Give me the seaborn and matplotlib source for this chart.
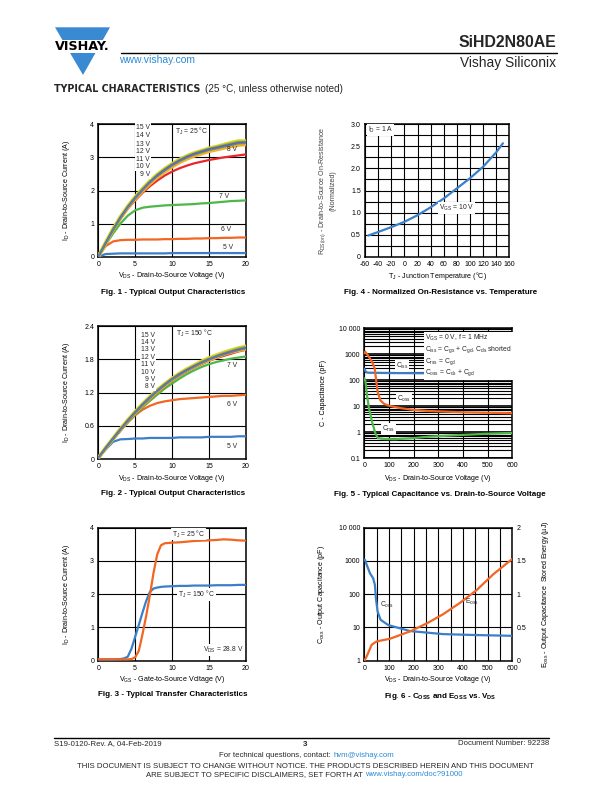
import numpy as np
import pandas as pd
import matplotlib
matplotlib.use("Agg")
import matplotlib.pyplot as plt
import seaborn as sns
from matplotlib.ticker import MultipleLocator, LogLocator, NullFormatter, FixedLocator
from matplotlib.patches import Polygon, Rectangle
from matplotlib.lines import Line2D

# ---------------- data ----------------
# Fig 1 - output characteristics, TJ = 25 C
vds1 = [0, 1, 2, 3, 4, 5, 6, 7, 8, 9, 10, 11, 12, 13, 14, 15, 16, 17, 18, 19, 20]
f1_15 = [0, 0.42, 0.83, 1.20, 1.52, 1.80, 2.05, 2.28, 2.48, 2.65, 2.80, 2.93, 3.04, 3.13, 3.20, 3.27, 3.32, 3.38, 3.44, 3.49, 3.49]
f1_14 = [0, 0.42, 0.82, 1.19, 1.51, 1.79, 2.04, 2.27, 2.47, 2.64, 2.79, 2.92, 3.03, 3.12, 3.19, 3.26, 3.31, 3.37, 3.42, 3.47, 3.47]
f1_13 = [0, 0.41, 0.82, 1.18, 1.50, 1.78, 2.03, 2.26, 2.46, 2.63, 2.78, 2.91, 3.02, 3.11, 3.18, 3.25, 3.30, 3.35, 3.40, 3.45, 3.46]
f1_12 = [0, 0.41, 0.81, 1.18, 1.50, 1.77, 2.02, 2.25, 2.45, 2.62, 2.77, 2.90, 3.01, 3.10, 3.17, 3.24, 3.29, 3.34, 3.39, 3.44, 3.45]
f1_11 = [0, 0.41, 0.81, 1.17, 1.49, 1.76, 2.01, 2.24, 2.44, 2.61, 2.76, 2.89, 3.00, 3.09, 3.16, 3.23, 3.28, 3.33, 3.38, 3.43, 3.44]
f1_10 = [0, 0.40, 0.80, 1.16, 1.48, 1.75, 2.00, 2.23, 2.42, 2.59, 2.74, 2.87, 2.98, 3.07, 3.14, 3.21, 3.26, 3.31, 3.36, 3.41, 3.42]
f1_9 = [0, 0.40, 0.79, 1.15, 1.46, 1.73, 1.97, 2.19, 2.38, 2.55, 2.70, 2.83, 2.94, 3.03, 3.10, 3.17, 3.22, 3.27, 3.32, 3.36, 3.38]
f1_8 = [0, 0.39, 0.78, 1.14, 1.45, 1.70, 1.93, 2.13, 2.30, 2.45, 2.57, 2.67, 2.75, 2.82, 2.87, 2.92, 2.96, 3.00, 3.03, 3.06, 3.09]
f1_7 = [0, 0.36, 0.70, 1.00, 1.24, 1.40, 1.48, 1.51, 1.53, 1.55, 1.56, 1.57, 1.58, 1.59, 1.61, 1.62, 1.64, 1.66, 1.68, 1.69, 1.70]
f1_6 = [0, 0.32, 0.46, 0.50, 0.51, 0.51, 0.52, 0.52, 0.52, 0.53, 0.53, 0.54, 0.54, 0.55, 0.55, 0.56, 0.56, 0.57, 0.57, 0.58, 0.58]
f1_5 = [0, 0.08, 0.09, 0.10, 0.10, 0.10, 0.10, 0.10, 0.10, 0.10, 0.11, 0.11, 0.11, 0.11, 0.11, 0.11, 0.11, 0.11, 0.11, 0.11, 0.11]

# Fig 2 - output characteristics, TJ = 150 C
vds2 = [0, 1, 2, 3, 4, 5, 6, 7, 8, 9, 10, 11, 12, 13, 14, 15, 16, 17, 18, 19, 20]
f2_15 = [0.02, 0.20, 0.37, 0.54, 0.70, 0.85, 0.99, 1.12, 1.24, 1.35, 1.45, 1.54, 1.62, 1.69, 1.76, 1.82, 1.87, 1.92, 1.96, 2.00, 2.03]
f2_14 = [0.02, 0.20, 0.37, 0.54, 0.70, 0.85, 0.99, 1.12, 1.24, 1.35, 1.45, 1.54, 1.61, 1.68, 1.75, 1.81, 1.86, 1.91, 1.95, 1.99, 2.02]
f2_13 = [0.02, 0.20, 0.37, 0.53, 0.69, 0.84, 0.98, 1.11, 1.23, 1.34, 1.44, 1.53, 1.61, 1.68, 1.74, 1.80, 1.85, 1.90, 1.94, 1.98, 2.01]
f2_12 = [0.02, 0.20, 0.37, 0.53, 0.69, 0.84, 0.98, 1.11, 1.23, 1.34, 1.44, 1.52, 1.60, 1.67, 1.74, 1.80, 1.85, 1.89, 1.93, 1.97, 2.00]
f2_11 = [0.02, 0.19, 0.36, 0.53, 0.69, 0.84, 0.97, 1.10, 1.22, 1.33, 1.43, 1.52, 1.60, 1.67, 1.73, 1.79, 1.84, 1.89, 1.93, 1.97, 2.00]
f2_10 = [0.02, 0.19, 0.36, 0.52, 0.68, 0.83, 0.97, 1.10, 1.22, 1.33, 1.43, 1.51, 1.59, 1.66, 1.73, 1.79, 1.84, 1.88, 1.92, 1.96, 1.99]
f2_9 = [0.02, 0.19, 0.36, 0.52, 0.68, 0.83, 0.96, 1.09, 1.21, 1.32, 1.42, 1.51, 1.59, 1.66, 1.72, 1.78, 1.83, 1.88, 1.92, 1.95, 1.98]
f2_8 = [0.02, 0.19, 0.36, 0.52, 0.67, 0.82, 0.96, 1.08, 1.20, 1.31, 1.41, 1.50, 1.58, 1.65, 1.71, 1.77, 1.82, 1.86, 1.90, 1.94, 1.97]
f2_7 = [0.02, 0.19, 0.35, 0.51, 0.66, 0.80, 0.93, 1.05, 1.16, 1.27, 1.36, 1.45, 1.53, 1.60, 1.66, 1.71, 1.75, 1.78, 1.81, 1.83, 1.85]
f2_6 = [0.02, 0.19, 0.35, 0.51, 0.66, 0.79, 0.89, 0.96, 1.01, 1.04, 1.06, 1.08, 1.09, 1.10, 1.11, 1.12, 1.13, 1.14, 1.14, 1.15, 1.16]
f2_5 = [0.02, 0.17, 0.31, 0.355, 0.36, 0.37, 0.37, 0.38, 0.38, 0.38, 0.38, 0.39, 0.39, 0.39, 0.39, 0.40, 0.40, 0.40, 0.40, 0.41, 0.41]

# Fig 3 - transfer characteristics
vgs3 = [0, 1, 2, 3, 3.5, 4, 4.5, 5, 5.5, 6, 6.5, 7, 7.5, 8, 8.5, 9, 10, 11, 12, 13, 14, 15, 16, 17, 18, 19, 20]
id_25 = [0.04, 0.04, 0.04, 0.04, 0.04, 0.04, 0.05, 0.10, 0.30, 0.80, 1.35, 1.97, 2.65, 3.20, 3.47, 3.53, 3.55, 3.56, 3.58, 3.60, 3.61, 3.62, 3.63, 3.65, 3.64, 3.62, 3.61]
id_150 = [0.04, 0.04, 0.04, 0.05, 0.07, 0.12, 0.36, 0.72, 1.08, 1.45, 1.80, 2.07, 2.17, 2.20, 2.22, 2.23, 2.24, 2.25, 2.25, 2.26, 2.26, 2.26, 2.27, 2.27, 2.27, 2.28, 2.28]

# Fig 4 - normalized on-resistance
tj4 = [-55, -40, -20, 0, 20, 40, 60, 80, 100, 120, 140, 150]
rds4 = [0.48, 0.56, 0.67, 0.79, 0.94, 1.12, 1.32, 1.55, 1.78, 2.04, 2.37, 2.57]

# Fig 5 - capacitance
ciss_v = [0, 4, 10, 20, 100, 300, 600]
ciss_c = [280, 230, 200, 195, 190, 185, 180]
coss_v = [0, 4, 18, 31, 42, 47, 54, 65, 80, 100, 150, 200, 260, 400, 600]
coss_c = [1100, 1260, 810, 525, 290, 120, 36, 17, 12.5, 10.5, 8.4, 7.3, 6.6, 5.9, 5.4]
crss_v = [0, 4, 11, 18, 31, 45, 55, 80, 126, 200, 261, 396, 500, 600]
crss_c = [120, 100, 27, 9.5, 2.6, 0.9, 0.6, 0.55, 0.54, 0.6, 0.68, 0.79, 0.88, 0.95]

# Fig 6 - Coss and Eoss
coss6_v = [0, 3, 10, 23, 36, 43, 47, 54, 66, 97, 185, 320, 455, 600]
coss6_c = [1100, 1070, 760, 425, 300, 190, 76, 30, 17, 11.8, 7.8, 6.3, 5.9, 5.6]
eoss_v = [0, 9, 30, 50, 104, 185, 253, 320, 388, 455, 523, 600]
eoss_e = [0, 0.06, 0.24, 0.29, 0.33, 0.44, 0.56, 0.70, 0.87, 1.06, 1.30, 1.53]

# ---------------- style ----------------
sns.set_theme(style="white")
plt.rcParams["font.family"] = ["Liberation Sans", "DejaVu Sans"]
plt.rcParams["mathtext.default"] = "regular"
plt.rcParams["axes.unicode_minus"] = False

W, H = 612, 792
fig = plt.figure(figsize=(W / 100, H / 100), dpi=100)
fig.patch.set_facecolor("white")

BLUE = "#3b7fc8"
ORANGE = "#f26522"
GREEN = "#4cb848"
RED = "#e8262b"
LINK = "#2a8bd6"
TS = 5.0   # tick label size
LS = 5.1   # axis label size
AS = 4.9   # annotation size
FS = 5.6   # footer size
WB = dict(facecolor="white", edgecolor="none", pad=0.6)


def add_ax(l, t, r, b):
    return fig.add_axes([l / W, 1 - b / H, (r - l) / W, (b - t) / H])


def prep(ax, xlim, ylim, xticks=None, yticks=None):
    ax.set_xlim(xlim)
    ax.set_ylim(ylim)
    if xticks is not None:
        ax.set_xticks(xticks)
    if yticks is not None:
        ax.set_yticks(yticks)
    ax.grid(True, which="major", color="black", lw=0.8)
    for s in ax.spines.values():
        s.set_visible(True)
        s.set_color("black")
        s.set_linewidth(1.1)
    ax.tick_params(which="both", length=0, labelsize=TS, pad=3, colors="black")
    ax.set_axisbelow(True)
    ax.set_facecolor("white")


def labels(ax, xl, yl, xy, yx, ycol="black"):
    ax.set_xlabel(xl, fontsize=LS, va="center", color="black")
    ax.set_ylabel(yl, fontsize=LS, va="center", color=ycol)
    ax.xaxis.set_label_coords(0.5, xy)
    ax.yaxis.set_label_coords(yx, 0.5)


def line(ax, x, y, color, lw=1.6, z=3):
    sns.lineplot(x=x, y=y, ax=ax, color=color, lw=lw, zorder=z, legend=False,
                 estimator=None, sort=False)


def caption(xc, yc, s):
    fig.text(xc / W, 1 - yc / H, s, ha="center", va="center", fontsize=5.8,
             fontweight="bold", color="black")


bundle_cols = {"15": "#d6d81e", "14": "#a3a736", "13": "#7a7f8c", "12": "#4a72b0",
               "11": "#6f5fa0", "10": "#5b86a8", "9": "#f3b31c"}

# ---------------- Fig 1 ----------------
ax1 = add_ax(98.3, 124.3, 245.7, 256.7)
prep(ax1, (0, 20), (0, 4), [0, 5, 10, 15, 20], [0, 1, 2, 3, 4])
line(ax1, vds1, f1_5, BLUE)
line(ax1, vds1, f1_6, ORANGE)
line(ax1, vds1, f1_7, GREEN)
line(ax1, vds1, f1_8, RED)
line(ax1, vds1, f1_15, bundle_cols["15"], lw=2.8)
line(ax1, vds1, f1_9, bundle_cols["9"], lw=2.0)
line(ax1, vds1, f1_14, bundle_cols["14"], lw=1.6)
line(ax1, vds1, f1_13, bundle_cols["13"], lw=1.4)
line(ax1, vds1, f1_12, bundle_cols["12"], lw=1.2)
line(ax1, vds1, f1_11, bundle_cols["11"], lw=1.0)
line(ax1, vds1, f1_10, bundle_cols["10"], lw=0.9)
labels(ax1, "V$_{DS}$ - Drain-to-Source Voltage (V)", "I$_D$ - Drain-to-Source Current (A)", -0.144, -0.214)
for s, yv in zip(["15 V", "14 V", "13 V", "12 V", "11 V", "10 V", "9 V"],
                 [3.90, 3.67, 3.40, 3.17, 2.95, 2.72, 2.49]):
    ax1.text(7.0, yv, s, fontsize=AS, ha="right", va="center", bbox=WB, zorder=5)
ax1.text(10.4, 3.78, "T$_J$ = 25 °C", fontsize=AS, ha="left", va="center", bbox=WB, zorder=5)
ax1.text(18.1, 3.24, "8 V", fontsize=AS, ha="center", va="center", zorder=5)
ax1.text(17.0, 1.83, "7 V", fontsize=AS, ha="center", va="center", zorder=5)
ax1.text(17.4, 0.81, "6 V", fontsize=AS, ha="center", va="center", zorder=5)
ax1.text(17.6, 0.27, "5 V", fontsize=AS, ha="center", va="center", zorder=5)
caption(173, 292, "Fig. 1 - Typical Output Characteristics")

# ---------------- Fig 4 ----------------
ax4 = add_ax(365, 124.3, 509.5, 256.7)
prep(ax4, (-60, 160), (0, 3.0), list(range(-60, 161, 20)), [0, 0.5, 1.0, 1.5, 2.0, 2.5, 3.0])
ax4.set_yticklabels(["0", "0.5", "1.0", "1.5", "2.0", "2.5", "3.0"])
ax4.yaxis.set_minor_locator(MultipleLocator(0.25))
ax4.grid(True, which="minor", axis="y", color="black", lw=0.8)
line(ax4, tj4, rds4, BLUE)
labels(ax4, "T$_J$ - Junction Temperature (°C)",
       "R$_{DS(on)}$ - Drain-to-Source On-Resistance\n(Normalized)", -0.144, -0.263, ycol="#444444")
ax4.text(-55, 2.87, "I$_D$ = 1 A", fontsize=AS, ha="left", va="center", bbox=WB, zorder=5)
ax4.text(79.6, 1.11, "V$_{GS}$ = 10 V", fontsize=AS, ha="center", va="center", bbox=WB, zorder=5)
caption(441, 292, "Fig. 4 - Normalized On-Resistance vs. Temperature")

# ---------------- Fig 2 ----------------
ax2 = add_ax(98.3, 326, 245.7, 459)
prep(ax2, (0, 20), (0, 2.4), [0, 5, 10, 15, 20], [0, 0.6, 1.2, 1.8, 2.4])
ax2.set_yticklabels(["0", "0.6", "1.2", "1.8", "2.4"])
line(ax2, vds2, f2_5, BLUE)
line(ax2, vds2, f2_6, ORANGE)
line(ax2, vds2, f2_7, GREEN)
line(ax2, vds2, f2_8, RED)
line(ax2, vds2, f2_15, bundle_cols["15"], lw=2.8)
line(ax2, vds2, f2_9, bundle_cols["9"], lw=2.0)
line(ax2, vds2, f2_14, bundle_cols["14"], lw=1.6)
line(ax2, vds2, f2_13, bundle_cols["13"], lw=1.4)
line(ax2, vds2, f2_12, bundle_cols["12"], lw=1.2)
line(ax2, vds2, f2_11, bundle_cols["11"], lw=1.0)
line(ax2, vds2, f2_10, bundle_cols["10"], lw=0.9)
labels(ax2, "V$_{DS}$ - Drain-to-Source Voltage (V)", "I$_D$ - Drain-to-Source Current (A)", -0.150, -0.214)
for s, yv in zip(["15 V", "14 V", "13 V", "12 V", "11 V", "10 V", "9 V", "8 V"],
                 [2.22, 2.10, 1.98, 1.84, 1.70, 1.56, 1.44, 1.30]):
    ax2.text(7.7, yv, s, fontsize=AS, ha="right", va="center", bbox=WB, zorder=5)
ax2.text(10.5, 2.27, "T$_J$ = 150 °C", fontsize=AS, ha="left", va="center", bbox=WB, zorder=5)
ax2.text(18.1, 1.68, "7 V", fontsize=AS, ha="center", va="center", zorder=5)
ax2.text(18.1, 0.98, "6 V", fontsize=AS, ha="center", va="center", zorder=5)
ax2.text(18.1, 0.23, "5 V", fontsize=AS, ha="center", va="center", zorder=5)
caption(173, 493.5, "Fig. 2 - Typical Output Characteristics")

# ---------------- Fig 5 ----------------
ax5 = add_ax(364.3, 328.3, 512.3, 458.3)
ax5.set_yscale("log")
prep(ax5, (0, 600), (0.1, 10000), [0, 100, 200, 300, 400, 500, 600],
     [0.1, 1, 10, 100, 1000, 10000])
ax5.set_yticklabels(["0.1", "1", "10", "100", "1000", "10 000"])
ax5.yaxis.set_minor_locator(LogLocator(base=10, subs=np.arange(2, 10)))
ax5.yaxis.set_minor_formatter(NullFormatter())
ax5.grid(True, which="minor", axis="y", color="black", lw=0.8)
ax5.grid(True, which="major", axis="y", color="black", lw=1.2)
line(ax5, ciss_v, ciss_c, BLUE)
line(ax5, coss_v, coss_c, ORANGE)
line(ax5, crss_v, crss_c, GREEN)
labels(ax5, "V$_{DS}$ - Drain-to-Source Voltage (V)", "C - Capacitance (pF)", -0.159, -0.277)
ax5.text(0.412, 0.965,
         "V$_{GS}$ = 0 V, f = 1 MHz\nC$_{iss}$ = C$_{gs}$ + C$_{gd}$, C$_{ds}$ shorted\n"
         "C$_{rss}$ = C$_{gd}$\nC$_{oss}$ = C$_{ds}$ + C$_{gd}$",
         transform=ax5.transAxes, fontsize=AS, ha="left", va="top", linespacing=1.15,
         bbox=dict(facecolor="white", edgecolor="none", pad=1.2), zorder=5)
ax5.text(0.255, 0.712, "C$_{iss}$", transform=ax5.transAxes, fontsize=AS, ha="center",
         va="center", bbox=WB, zorder=5)
ax5.text(0.266, 0.456, "C$_{oss}$", transform=ax5.transAxes, fontsize=AS, ha="center",
         va="center", bbox=WB, zorder=5)
ax5.text(0.165, 0.225, "C$_{rss}$", transform=ax5.transAxes, fontsize=AS, ha="center",
         va="center", bbox=WB, zorder=5)
caption(440, 494, "Fig. 5 - Typical Capacitance vs. Drain-to-Source Voltage")

# ---------------- Fig 3 ----------------
ax3 = add_ax(98.3, 527.7, 245.7, 660.7)
prep(ax3, (0, 20), (0, 4), [0, 5, 10, 15, 20], [0, 1, 2, 3, 4])
line(ax3, vgs3, id_150, BLUE)
line(ax3, vgs3, id_25, ORANGE)
labels(ax3, "V$_{GS}$ - Gate-to-Source Voltage (V)", "I$_D$ - Drain-to-Source Current (A)", -0.140, -0.214)
ax3.text(12.2, 3.81, "T$_J$ = 25 °C", fontsize=AS, ha="center", va="center", bbox=WB, zorder=5)
ax3.text(13.3, 2.0, "T$_J$ = 150 °C", fontsize=AS, ha="center", va="center", bbox=WB, zorder=5)
ax3.text(17.0, 0.32, "V$_{DS}$ = 28.8 V", fontsize=AS, ha="center", va="center", bbox=WB, zorder=5)
caption(173, 695, "Fig. 3 - Typical Transfer Characteristics")

# ---------------- Fig 6 ----------------
ax6 = add_ax(364.3, 527.7, 512.3, 660.7)
ax6.set_yscale("log")
prep(ax6, (0, 600), (1, 10000), [0, 100, 200, 300, 400, 500, 600], [1, 10, 100, 1000, 10000])
ax6.set_yticklabels(["1", "10", "100", "1000", "10 000"])
ax6.yaxis.set_minor_locator(FixedLocator([]))
ax6.xaxis.set_minor_locator(MultipleLocator(50))
ax6.grid(True, which="minor", axis="x", color="black", lw=0.8)
line(ax6, coss6_v, coss6_c, BLUE)
labels(ax6, "V$_{DS}$ - Drain-to-Source Voltage (V)", "C$_{oss}$ - Output Capacitance (pF)", -0.140, -0.288)
ax6r = ax6.twinx()
ax6r.set_ylim(0, 2)
ax6r.set_yticks([0, 0.5, 1, 1.5, 2])
ax6r.set_yticklabels(["0", "0.5", "1", "1.5", "2"])
ax6r.tick_params(length=0, labelsize=TS, pad=3, colors="black")
ax6r.grid(False)
for s in ax6r.spines.values():
    s.set_visible(False)
line(ax6r, eoss_v, eoss_e, ORANGE)
ax6r.set_ylabel("E$_{oss}$ - Output Capacitance  Stored Energy (µJ)", fontsize=LS, va="center",
                rotation=90, color="black")
ax6r.yaxis.set_label_coords(1.221, 0.5)
ax6r.text(0.153, 0.419, "C$_{oss}$", transform=ax6r.transAxes, fontsize=AS, ha="center", va="center", zorder=5)
ax6r.text(0.726, 0.439, "E$_{oss}$", transform=ax6r.transAxes, fontsize=AS, ha="center", va="center", zorder=5)
caption(440, 696.5, "Fig. 6 - C$_{OSS}$ and E$_{OSS}$ vs. V$_{DS}$")

# ---------------- header ----------------
def P(x, y):
    return (x / W, 1 - y / H)

logo_blue = "#3a8ad3"
fig.add_artist(Polygon([P(55, 27.3), P(110, 27.3), P(83, 75)], closed=True,
                       transform=fig.transFigure, facecolor=logo_blue, edgecolor="none"))
fig.add_artist(Rectangle(P(50, 52.5), 64 / W, 12.5 / H, transform=fig.transFigure,
                         facecolor="white", edgecolor="none"))
fig.text(*P(82.5, 46.3), "VISHAY.", fontsize=9.2, fontweight="bold", ha="center", va="center",
         color="black", family="DejaVu Sans")
fig.add_artist(Line2D([121 / W, 557 / W], [1 - 53.4 / H, 1 - 53.4 / H], transform=fig.transFigure,
                      color="black", lw=1.0))
fig.text(*P(556.5, 42.4), "SiHD2N80AE", fontsize=11.4, fontweight="bold", ha="right", va="center")
fig.text(*P(556.5, 63.0), "Vishay Siliconix", fontsize=9.9, ha="right", va="center")
fig.text(*P(119, 59.6), "www.vishay.com", fontsize=7.5, ha="left", va="center", color=LINK)
fig.text(*P(54, 89.0), "TYPICAL CHARACTERISTICS", fontsize=6.85, fontweight="bold",
         ha="left", va="center", family="DejaVu Sans")
fig.text(*P(204.6, 89.0), "(25 °C, unless otherwise noted)", fontsize=7.1, ha="left", va="center")

# ---------------- footer ----------------
fig.add_artist(Line2D([54 / W, 549 / W], [1 - 737.6 / H, 1 - 737.6 / H], transform=fig.transFigure,
                      color="black", lw=1.0))
fig.text(*P(54, 743.8), "S19-0120-Rev. A, 04-Feb-2019", fontsize=FS, ha="left", va="center")
fig.text(*P(305, 744.8), "3", fontsize=5.8, fontweight="bold", ha="center", va="center")
fig.text(*P(549, 743.8), "Document Number: 92238", fontsize=FS, ha="right", va="center")
fig.text(*P(332.5, 755.2), "For technical questions, contact: ", fontsize=FS, ha="right", va="center")
fig.text(*P(333.5, 755.2), "hvm@vishay.com", fontsize=FS, ha="left", va="center", color=LINK)
fig.text(*P(305, 766.3), "THIS DOCUMENT IS SUBJECT TO CHANGE WITHOUT NOTICE. THE PRODUCTS DESCRIBED HEREIN AND THIS DOCUMENT",
         fontsize=FS, ha="center", va="center")
fig.text(*P(364.5, 774.8), "ARE SUBJECT TO SPECIFIC DISCLAIMERS, SET FORTH AT ", fontsize=FS, ha="right", va="center")
fig.text(*P(365.4, 774.8), "www.vishay.com/doc?91000", fontsize=FS, ha="left", va="center", color=LINK)

fig.savefig("out.png", dpi=100, facecolor="white")
